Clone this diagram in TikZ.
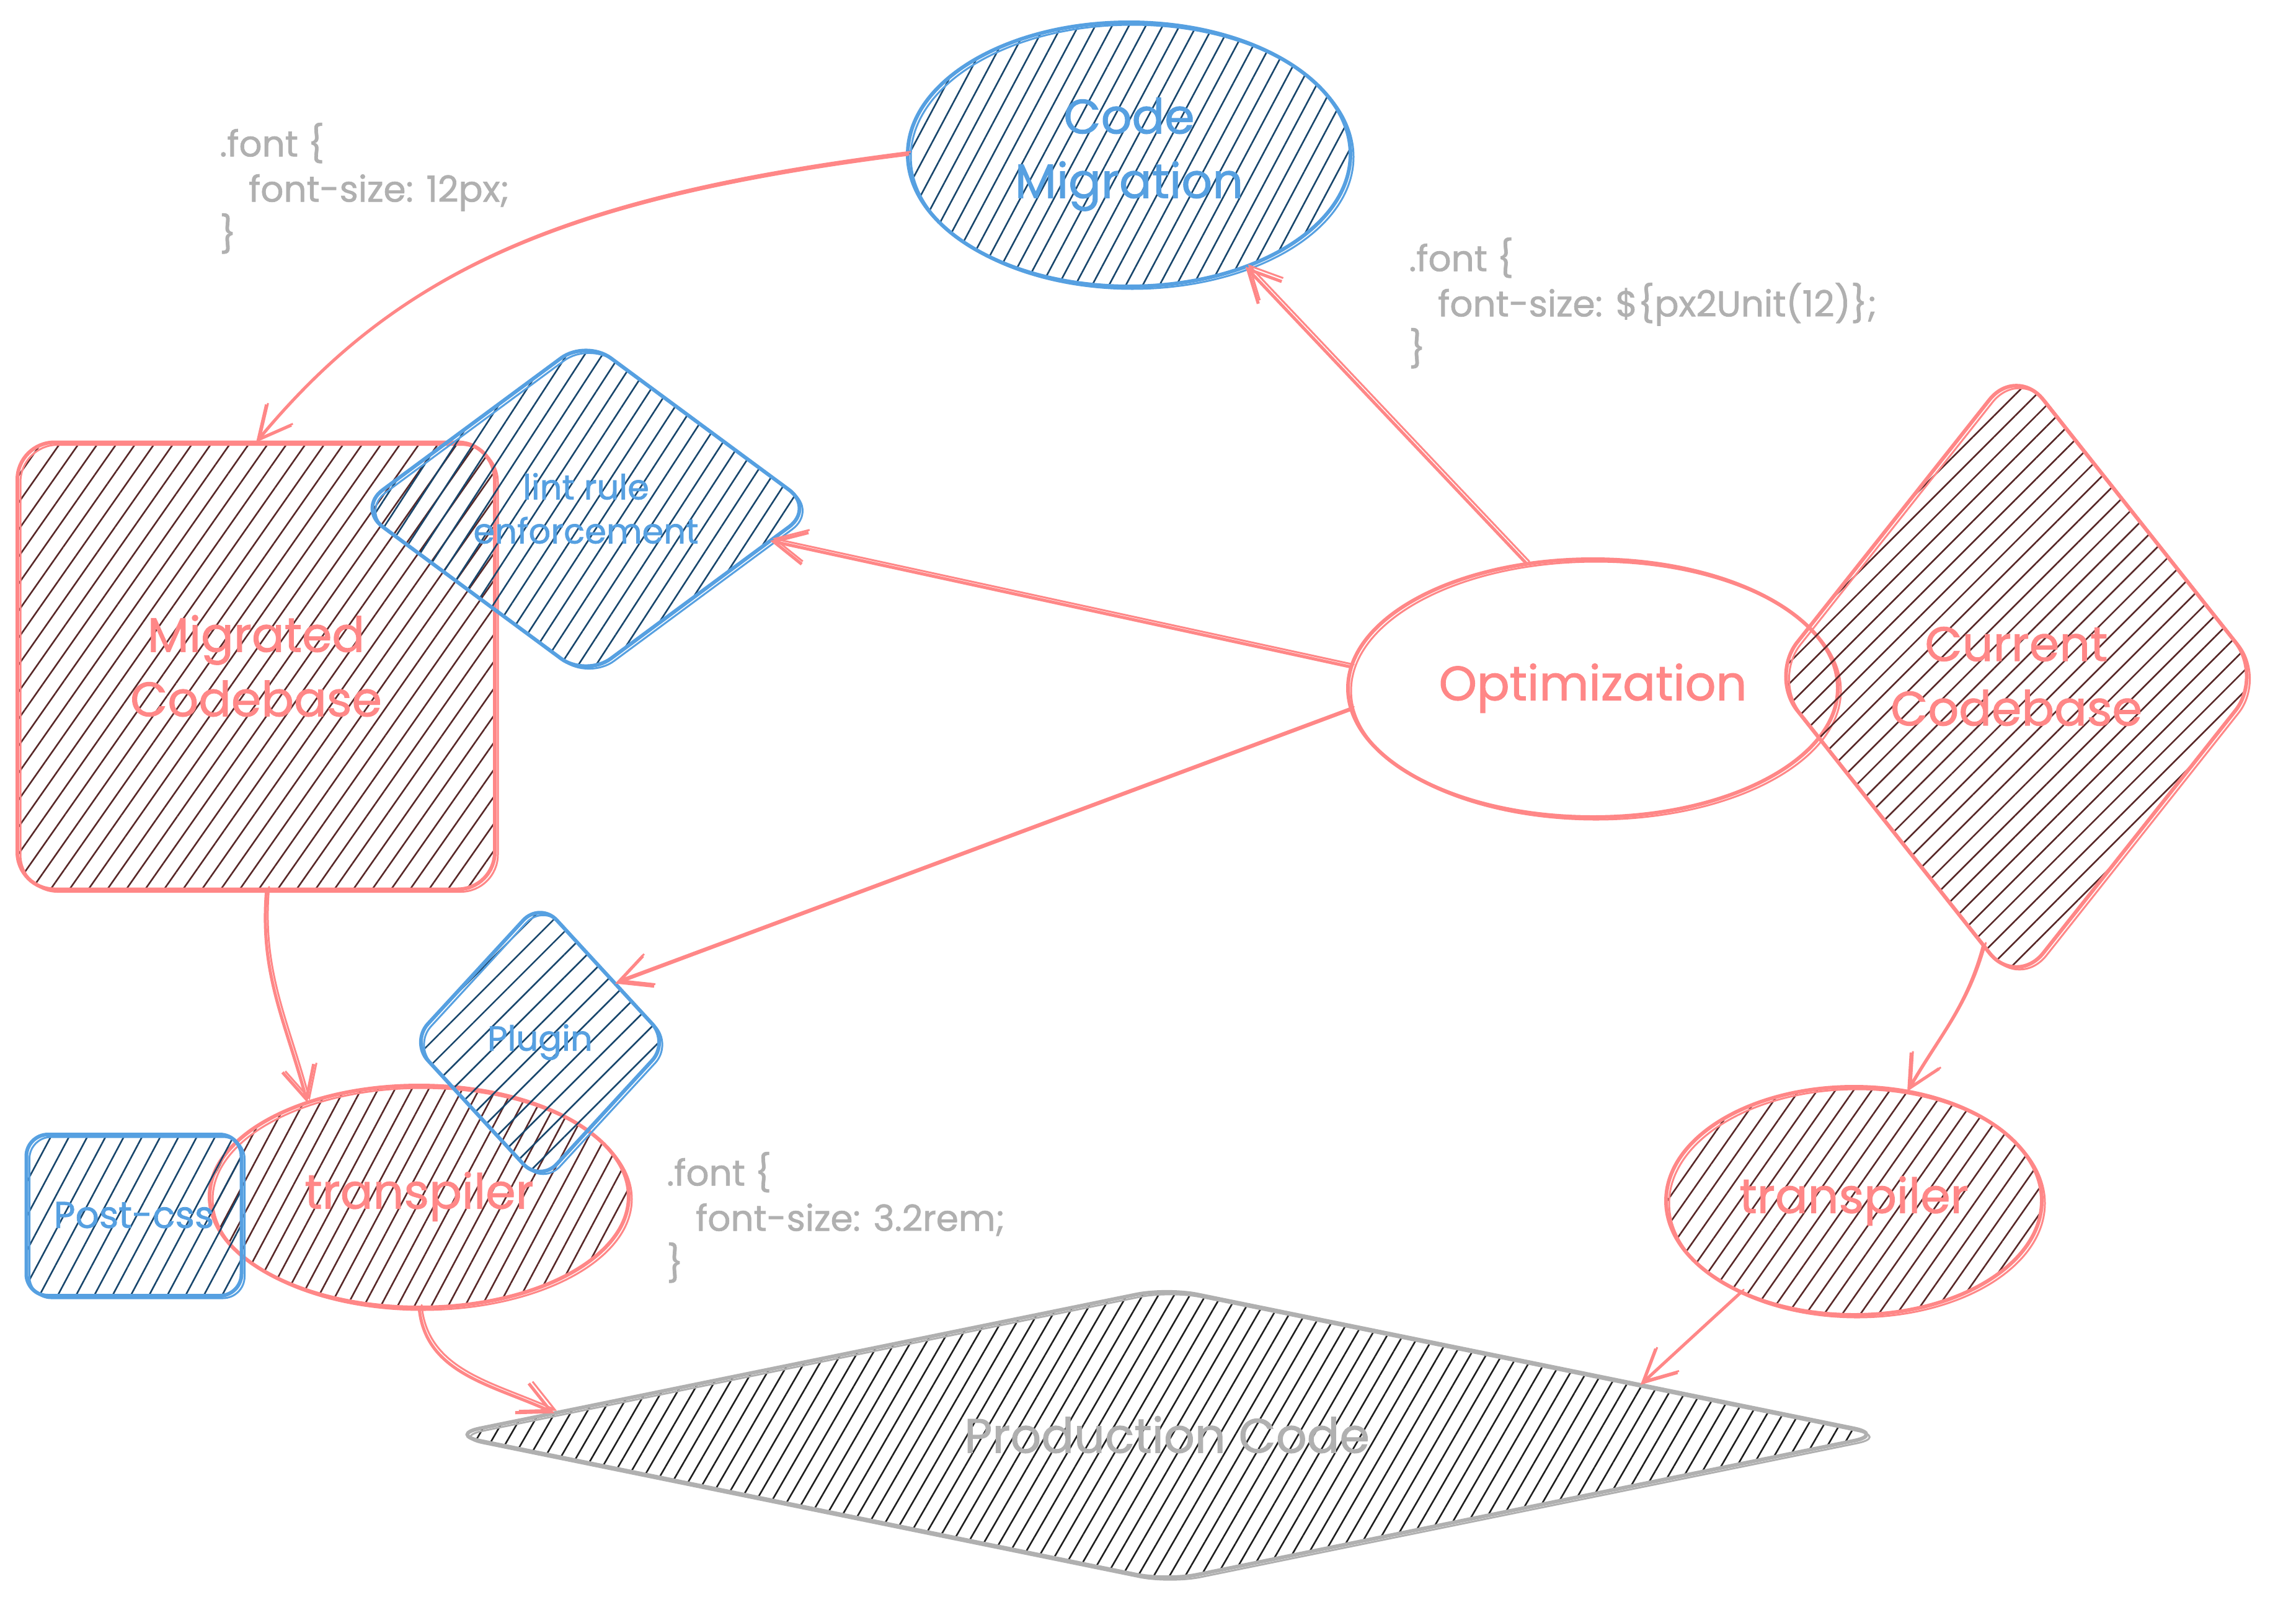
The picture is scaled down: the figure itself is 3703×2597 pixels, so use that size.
\documentclass[tikz,border=0pt]{standalone}
\usepackage{fontspec}
\setmainfont{Poppins}[FakeBold=1.2]
\usetikzlibrary{shapes.geometric,arrows.meta,patterns.meta}

\definecolor{cred}{RGB}{255,135,135}
\definecolor{cblue}{RGB}{86,160,225}
\definecolor{hnavy}{RGB}{24,70,108}
\definecolor{hmaroon}{RGB}{88,40,40}
\definecolor{hblack}{RGB}{30,30,30}
\definecolor{cgray}{RGB}{176,176,176}

\begin{document}
\begin{tikzpicture}[x=1pt, y=-1pt,
  shp/.style={draw, line width=6pt, outer sep=0pt, inner sep=0pt},
  rsh/.style={shp, draw=cred, text=cred,
    postaction={draw=cred, line width=3pt, transform canvas={shift={(5pt,-4pt)}}}},
  bsh/.style={shp, draw=cblue, text=cblue,
    postaction={draw=cblue, line width=3pt, transform canvas={shift={(5pt,-4pt)}}}},
  gsh/.style={shp, draw=cgray, text=cgray,
    postaction={draw=cgray, line width=3pt, transform canvas={shift={(5pt,-4pt)}}}},
  hatch/.style n args={3}{pattern={Lines[angle=#1, distance=#2, line width=2.6pt]}, pattern color=#3},
  txtbig/.style={font=\fontsize{78}{104}\selectfont, align=center},
  txtmid/.style={font=\fontsize{56}{71}\selectfont, align=center},
  codetxt/.style={font=\fontsize{58}{73}\selectfont, align=left, text=cgray, inner sep=0pt, anchor=north west},
  arr/.style={draw=cred, line width=5pt, line cap=round, -{Straight Barb[length=52pt,width=52pt]},
    postaction={draw=cred, line width=3pt, transform canvas={shift={(4pt,4pt)}}, -{Straight Barb[length=52pt,width=52pt]}}}]

\fill[white] (0,0) rectangle (3703,2597);
\useasboundingbox (0,0) rectangle (3703,2597);

% shapes
\node[rsh, rectangle, rounded corners=60pt, minimum width=770pt, minimum height=721pt, txtbig,
  hatch={55}{25pt}{hmaroon}] (mc) at (413,1074) {Migrated\\Codebase};

\node[bsh, diamond, rounded corners=50pt, minimum width=736pt, minimum height=544pt, txtmid,
  hatch={57}{24pt}{hnavy}] (lint) at (945,820) {lint rule\\enforcement};

\node[bsh, ellipse, minimum width=714pt, minimum height=426pt, txtbig,
  hatch={62}{24pt}{hnavy}] (cm) at (1821,249) {Code\\Migration};

\node[rsh, ellipse, minimum width=790pt, minimum height=416pt, txtbig] (opt) at (2569,1110) {Optimization};

\node[rsh, diamond, rounded corners=70pt, minimum width=794pt, minimum height=1002pt, txtbig,
  hatch={45}{24pt}{hmaroon}] (cc) at (3252,1091) {Current\\Codebase};

\node[rsh, ellipse, minimum width=676pt, minimum height=358pt, txtbig,
  hatch={62}{24pt}{hmaroon}] (tl) at (676,1930) {transpiler};

\node[bsh, diamond, rounded corners=40pt, minimum width=416pt, minimum height=452pt, txtmid,
  hatch={45}{26pt}{hnavy}] (plugin) at (871,1681) {Plugin};

\node[bsh, rectangle, rounded corners=35pt, minimum width=347pt, minimum height=260pt,
  font=\fontsize{60}{72}\selectfont, hatch={62}{26pt}{hnavy}] (postcss) at (216,1960) {Post-css};

\node[rsh, ellipse, minimum width=606pt, minimum height=368pt, txtbig,
  hatch={55}{24pt}{hmaroon}] (tr) at (2990,1937) {transpiler};

\node[gsh, diamond, aspect=4.9, rounded corners=50pt, minimum width=2314pt, minimum height=472pt, txtbig,
  hatch={60}{22pt}{hblack}] (pc) at (1882,2314) {Production Code};

% code notes
\node[codetxt] (c1) at (354,198) {.font \{\\\hspace*{47pt}font-size: 12px;\\\}};
\node[codetxt] (c2) at (2272,383) {.font \{\\\hspace*{47pt}font-size: \$\{px2Unit(12)\};\\\}};
\node[codetxt] (c3) at (1075,1858) {.font \{\\\hspace*{47pt}font-size: 3.2rem;\\\}};

% connectors
\draw[arr] (cm.west) .. controls (900,320) and (640,440) .. (mc.north);
\draw[arr] (opt.118) -- (cm.-44);
\draw[arr] (opt.175) -- (lint.-10);
\draw[arr] (opt.185) -- (plugin.38);
\draw[arr] ([xshift=17pt]mc.south) to[out=-95,in=105] (tl.140);
\draw[arr] (cc.-97) to[out=-105,in=60] (tr.64);
\draw[arr] (tl.-90) to[out=-85,in=155] (pc.178);
\draw[arr] (tr.-141) -- (pc.6.7);
\end{tikzpicture}
\end{document}
